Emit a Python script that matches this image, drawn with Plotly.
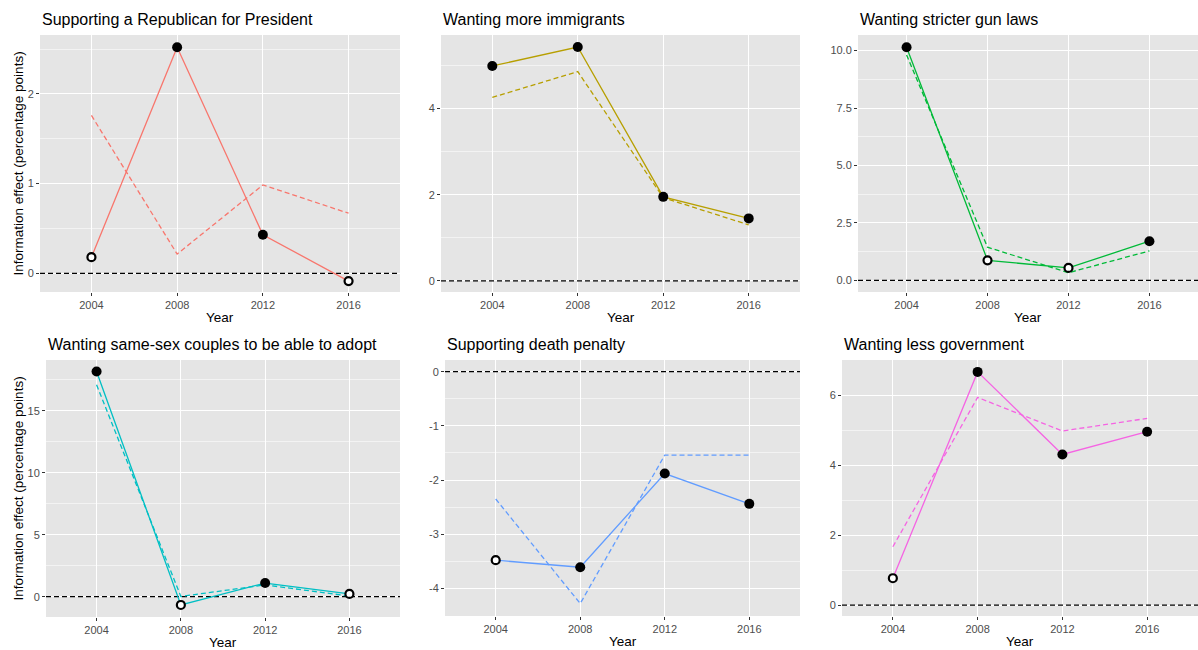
import plotly.graph_objects as go

W, H = 1198, 650

years = [2004, 2008, 2012, 2016]
x_ticks = [2004, 2008, 2012, 2016]

titles = [
    "Supporting a Republican for President",
    "Wanting more immigrants",
    "Wanting stricter gun laws",
    "Wanting same-sex couples to be able to adopt",
    "Supporting death penalty",
    "Wanting less government",
]
colors = ["#F8766D", "#B79F00", "#00BA38", "#00BFC4", "#619CFF", "#F564E3"]

republican_solid = [0.18, 2.52, 0.43, -0.086]
republican_dashed = [1.76, 0.215, 0.985, 0.67]
republican_sig = [False, True, True, False]

immigrants_solid = [4.99, 5.43, 1.95, 1.45]
immigrants_dashed = [4.26, 4.86, 1.93, 1.30]
immigrants_sig = [True, True, True, True]

gun_solid = [10.15, 0.87, 0.54, 1.70]
gun_dashed = [9.81, 1.44, 0.33, 1.28]
gun_sig = [True, False, False, True]

adopt_solid = [18.17, -0.67, 1.10, 0.22]
adopt_dashed = [17.1, 0.02, 0.95, 0.05]
adopt_sig = [True, False, True, False]

death_solid = [-3.48, -3.61, -1.88, -2.44]
death_dashed = [-2.35, -4.28, -1.54, -1.54]
death_sig = [False, True, True, True]

govt_solid = [0.77, 6.67, 4.31, 4.96]
govt_dashed = [1.67, 5.94, 4.98, 5.34]
govt_sig = [False, True, True, True]

solids = [republican_solid, immigrants_solid, gun_solid, adopt_solid, death_solid, govt_solid]
dasheds = [republican_dashed, immigrants_dashed, gun_dashed, adopt_dashed, death_dashed, govt_dashed]
sigs = [republican_sig, immigrants_sig, gun_sig, adopt_sig, death_sig, govt_sig]

y_ticks = [
    [0, 1, 2],
    [0, 2, 4],
    [0, 2.5, 5, 7.5, 10],
    [0, 5, 10, 15],
    [-4, -3, -2, -1, 0],
    [0, 2, 4, 6],
]
y_tick_labels = [
    ["0", "1", "2"],
    ["0", "2", "4"],
    ["0.0", "2.5", "5.0", "7.5", "10.0"],
    ["0", "5", "10", "15"],
    ["-4", "-3", "-2", "-1", "0"],
    ["0", "2", "4", "6"],
]
y_minor = [
    [0.5, 1.5, 2.5],
    [1, 3, 5],
    [1.25, 3.75, 6.25, 8.75],
    [2.5, 7.5, 12.5, 17.5],
    [-4.5, -3.5, -2.5, -1.5, -0.5],
    [1, 3, 5],
]
y_ranges = [
    [-0.208, 2.657],
    [-0.26, 5.71],
    [-0.51, 10.68],
    [-1.64, 19.1],
    [-4.51, 0.216],
    [-0.31, 7.01],
]
x_range = [2001.6, 2018.4]
reference_level = 0

# panel boxes in pixels: (left, right, top, bottom)
boxes = [
    (40, 400, 35, 292),
    (441, 800, 35, 292),
    (858, 1198, 35, 292),
    (46, 400, 360, 617),
    (445, 800, 360, 616),
    (842, 1198, 360, 616),
]

FONT = "Liberation Sans, Arial, Helvetica, sans-serif"
fig = go.Figure()
layout = dict(
    width=W, height=H, margin=dict(l=0, r=0, t=0, b=0, pad=0),
    paper_bgcolor="white", plot_bgcolor="#E5E5E5",
    showlegend=False, font=dict(family=FONT),
)
annotations = []

for i in range(6):
    l, r, t, b = boxes[i]
    xa = "x" if i == 0 else f"x{i+1}"
    ya = "y" if i == 0 else f"y{i+1}"
    xkey = "xaxis" if i == 0 else f"xaxis{i+1}"
    ykey = "yaxis" if i == 0 else f"yaxis{i+1}"
    layout[xkey] = dict(
        domain=[l / W, r / W], anchor=ya, range=x_range,
        tickmode="array", tickvals=x_ticks, ticktext=[str(v) for v in x_ticks],
        showgrid=True, gridcolor="white", gridwidth=1.4, zeroline=False,
        ticks="outside", ticklen=3, tickwidth=1, tickcolor="#333333",
        tickfont=dict(size=11, color="#4D4D4D", family=FONT),
        showline=False, fixedrange=True,
    )
    layout[ykey] = dict(
        domain=[1 - b / H, 1 - t / H], anchor=xa, range=y_ranges[i],
        tickmode="array", tickvals=y_ticks[i], ticktext=y_tick_labels[i],
        showgrid=True, gridcolor="white", gridwidth=1.4, zeroline=False,
        ticks="outside", ticklen=3, tickwidth=1, tickcolor="#333333",
        tickfont=dict(size=11, color="#4D4D4D", family=FONT),
        minor=dict(tickmode="array", tickvals=y_minor[i], showgrid=True,
                   gridcolor="#F3F3F3", gridwidth=0.8),
        showline=False, fixedrange=True,
    )
    c = colors[i]
    # reference line at zero across the whole panel
    fig.add_trace(go.Scatter(
        x=x_range, y=[reference_level, reference_level], mode="lines",
        xaxis=xa, yaxis=ya, hoverinfo="skip",
        line=dict(color="black", width=1.2, dash="5px,3px"),
    ))
    fig.add_trace(go.Scatter(
        x=years, y=dasheds[i], mode="lines", xaxis=xa, yaxis=ya,
        line=dict(color=c, width=1.3, dash="5px,3px"), hoverinfo="skip",
    ))
    fig.add_trace(go.Scatter(
        x=years, y=solids[i], mode="lines", xaxis=xa, yaxis=ya,
        line=dict(color=c, width=1.3), hoverinfo="skip",
    ))
    sx = [x for x, s in zip(years, sigs[i]) if s]
    sy = [y for y, s in zip(solids[i], sigs[i]) if s]
    nx = [x for x, s in zip(years, sigs[i]) if not s]
    ny = [y for y, s in zip(solids[i], sigs[i]) if not s]
    fig.add_trace(go.Scatter(
        x=sx, y=sy, mode="markers", xaxis=xa, yaxis=ya,
        marker=dict(size=10, color="black", line=dict(width=0)),
    ))
    fig.add_trace(go.Scatter(
        x=nx, y=ny, mode="markers", xaxis=xa, yaxis=ya,
        marker=dict(size=8, color="white", line=dict(width=2.2, color="black")),
    ))
    # panel title
    annotations.append(dict(
        text=titles[i], x=l / W, y=1 - (t - 16) / H, xref="paper", yref="paper",
        xanchor="left", yanchor="middle", showarrow=False,
        font=dict(size=16, color="black", family=FONT),
    ))
    # x axis title
    annotations.append(dict(
        text="Year", x=(l + r) / 2 / W, y=1 - (b + 25.5) / H, xref="paper", yref="paper",
        xanchor="center", yanchor="middle", showarrow=False,
        font=dict(size=13.5, color="black", family=FONT),
    ))
    if i in (0, 3):
        annotations.append(dict(
            text="Information effect (percentage points)", x=18 / W,
            y=1 - (t + b) / 2 / H, xref="paper", yref="paper",
            xanchor="center", yanchor="middle", showarrow=False, textangle=-90,
            font=dict(size=13.5, color="black", family=FONT),
        ))

layout["annotations"] = annotations
fig.update_layout(**layout)
fig.write_html(
    "out.html",
    config={"displayModeBar": False},
    post_script="document.body.style.margin='0';document.body.style.padding='0';",
)
